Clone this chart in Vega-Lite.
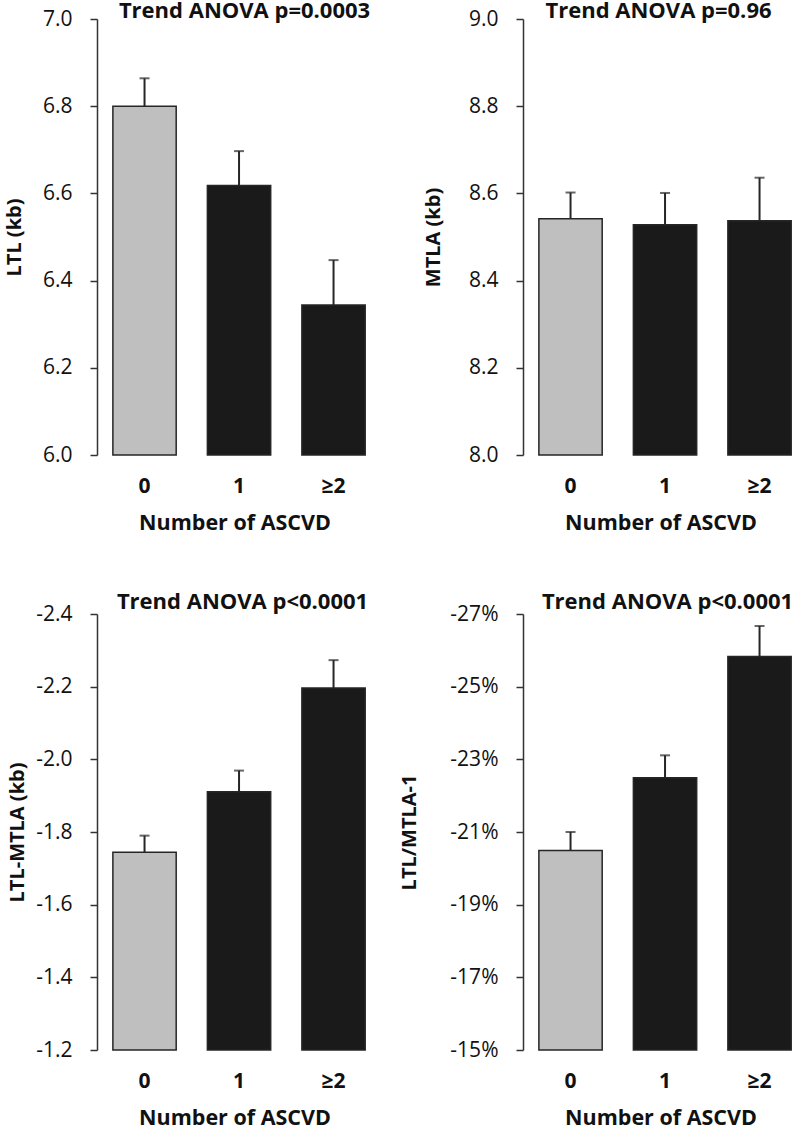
{
  "$schema": "https://vega.github.io/schema/vega-lite/v6.json",
  "background": "white",
  "padding": {"left": 4, "top": 0, "right": 0, "bottom": 0},
  "columns": 2,
  "bounds": "flush",
  "spacing": {"row": 159, "column": 151},
  "datasets": {
    "ltl": [
      {"group": "0", "value": 6.800, "hi": 6.864},
      {"group": "1", "value": 6.618, "hi": 6.697},
      {"group": "≥2", "value": 6.344, "hi": 6.447}
    ],
    "mtl": [
      {"group": "0", "value": 8.542, "hi": 8.602},
      {"group": "1", "value": 8.528, "hi": 8.601},
      {"group": "≥2", "value": 8.537, "hi": 8.636}
    ],
    "diff": [
      {"group": "0", "value": -1.744, "hi": -1.790},
      {"group": "1", "value": -1.911, "hi": -1.969},
      {"group": "≥2", "value": -2.196, "hi": -2.273}
    ],
    "ratio": [
      {"group": "0", "value": -20.49, "hi": -21.00},
      {"group": "1", "value": -22.49, "hi": -23.11},
      {"group": "≥2", "value": -25.83, "hi": -26.67}
    ]
  },
  "concat": [
    {
      "width": 275, "height": 436,
      "title": {"text": "Trend ANOVA p=0.0003", "dx": 10, "offset": -15},
      "data": {"name": "ltl"},
      "encoding": {
        "x": {"field": "group", "type": "nominal", "sort": ["0", "1", "≥2"], "title": "Number of ASCVD",
              "scale": {"paddingInner": 0.33, "paddingOuter": 0.12, "align": 0.7}}
      },
      "layer": [
        {"mark": {"type": "bar", "stroke": "#262626", "strokeWidth": 1.5},
         "encoding": {
           "y": {"field": "value", "type": "quantitative", "title": "LTL (kb)",
                 "scale": {"domain": [6.0, 7.0], "zero": false, "nice": false},
                 "axis": {"values": [6.0, 6.2, 6.4, 6.6, 6.8, 7.0], "format": ".1f", "titlePadding": 18}},
           "y2": {"datum": 6.0},
           "color": {"field": "group", "type": "nominal", "legend": null,
                     "scale": {"domain": ["0", "1", "≥2"], "range": ["#bfbfbf", "#1a1a1a", "#1a1a1a"]}}
         }},
        {"mark": {"type": "rule", "color": "#262626", "strokeWidth": 2},
         "encoding": {"y": {"field": "value", "type": "quantitative"}, "y2": {"field": "hi"}}},
        {"mark": {"type": "tick", "color": "#262626", "size": 10, "thickness": 2},
         "encoding": {"y": {"field": "hi", "type": "quantitative"}}}
      ]
    },
    {
      "width": 275, "height": 436,
      "title": {"text": "Trend ANOVA p=0.96", "dx": -2, "offset": -15},
      "data": {"name": "mtl"},
      "encoding": {
        "x": {"field": "group", "type": "nominal", "sort": ["0", "1", "≥2"], "title": "Number of ASCVD",
              "scale": {"paddingInner": 0.33, "paddingOuter": 0.12, "align": 0.7}}
      },
      "layer": [
        {"mark": {"type": "bar", "stroke": "#262626", "strokeWidth": 1.5},
         "encoding": {
           "y": {"field": "value", "type": "quantitative", "title": "MTLA (kb)",
                 "scale": {"domain": [8.0, 9.0], "zero": false, "nice": false},
                 "axis": {"values": [8.0, 8.2, 8.4, 8.6, 8.8, 9.0], "format": ".1f", "titlePadding": 25}},
           "y2": {"datum": 8.0},
           "color": {"field": "group", "type": "nominal", "legend": null,
                     "scale": {"domain": ["0", "1", "≥2"], "range": ["#bfbfbf", "#1a1a1a", "#1a1a1a"]}}
         }},
        {"mark": {"type": "rule", "color": "#262626", "strokeWidth": 2},
         "encoding": {"y": {"field": "value", "type": "quantitative"}, "y2": {"field": "hi"}}},
        {"mark": {"type": "tick", "color": "#262626", "size": 10, "thickness": 2},
         "encoding": {"y": {"field": "hi", "type": "quantitative"}}}
      ]
    },
    {
      "width": 275, "height": 436,
      "title": {"text": "Trend ANOVA p<0.0001", "dx": 8, "offset": -11},
      "data": {"name": "diff"},
      "encoding": {
        "x": {"field": "group", "type": "nominal", "sort": ["0", "1", "≥2"], "title": "Number of ASCVD",
              "scale": {"paddingInner": 0.33, "paddingOuter": 0.12, "align": 0.7}}
      },
      "layer": [
        {"mark": {"type": "bar", "stroke": "#262626", "strokeWidth": 1.5},
         "encoding": {
           "y": {"field": "value", "type": "quantitative", "title": "LTL-MTLA (kb)",
                 "scale": {"domain": [-2.4, -1.2], "reverse": true, "zero": false, "nice": false},
                 "axis": {"values": [-2.4, -2.2, -2.0, -1.8, -1.6, -1.4, -1.2], "format": ".1f", "titlePadding": 8,
                          "labelExpr": "replace(datum.label, '\u2212', '-')"}},
           "y2": {"datum": -1.2},
           "color": {"field": "group", "type": "nominal", "legend": null,
                     "scale": {"domain": ["0", "1", "≥2"], "range": ["#bfbfbf", "#1a1a1a", "#1a1a1a"]}}
         }},
        {"mark": {"type": "rule", "color": "#262626", "strokeWidth": 2},
         "encoding": {"y": {"field": "value", "type": "quantitative"}, "y2": {"field": "hi"}}},
        {"mark": {"type": "tick", "color": "#262626", "size": 10, "thickness": 2},
         "encoding": {"y": {"field": "hi", "type": "quantitative"}}}
      ]
    },
    {
      "width": 275, "height": 436,
      "title": {"text": "Trend ANOVA p<0.0001", "dx": 7, "offset": -11},
      "data": {"name": "ratio"},
      "encoding": {
        "x": {"field": "group", "type": "nominal", "sort": ["0", "1", "≥2"], "title": "Number of ASCVD",
              "scale": {"paddingInner": 0.33, "paddingOuter": 0.12, "align": 0.7}}
      },
      "layer": [
        {"mark": {"type": "bar", "stroke": "#262626", "strokeWidth": 1.5},
         "encoding": {
           "y": {"field": "value", "type": "quantitative", "title": "LTL/MTLA-1",
                 "scale": {"domain": [-27, -15], "reverse": true, "zero": false, "nice": false},
                 "axis": {"values": [-27, -25, -23, -21, -19, -17, -15], "format": ".0f", "titlePadding": 30,
                          "labelExpr": "replace(datum.label, '\u2212', '-') + '%'"}},
           "y2": {"datum": -15},
           "color": {"field": "group", "type": "nominal", "legend": null,
                     "scale": {"domain": ["0", "1", "≥2"], "range": ["#bfbfbf", "#1a1a1a", "#1a1a1a"]}}
         }},
        {"mark": {"type": "rule", "color": "#262626", "strokeWidth": 2},
         "encoding": {"y": {"field": "value", "type": "quantitative"}, "y2": {"field": "hi"}}},
        {"mark": {"type": "tick", "color": "#262626", "size": 10, "thickness": 2},
         "encoding": {"y": {"field": "hi", "type": "quantitative"}}}
      ]
    }
  ],
  "resolve": {"scale": {"color": "independent"}},
  "config": {
    "font": "Open Sans",
    "view": {"stroke": null},
    "title": {"font": "Open Sans", "fontSize": 22, "fontWeight": "bold", "color": "#111111", "anchor": "middle", "baseline": "alphabetic", "frame": "group"},
    "axisX": {"domain": false, "ticks": false, "labelAngle": 0, "labelFont": "Open Sans", "labelFontWeight": "bold", "labelFontSize": 21,
              "labelPadding": 20, "labelColor": "#111111", "titleFont": "Open Sans", "titleFontSize": 21.5, "titleFontWeight": "bold",
              "titlePadding": 16, "titleColor": "#111111"},
    "axisY": {"grid": false, "domainColor": "#333333", "domainWidth": 1.5, "tickColor": "#333333", "tickWidth": 1.5, "tickSize": 7,
              "labelFont": "Open Sans", "labelFontSize": 21, "labelPadding": 18, "labelColor": "#111111",
              "titleFont": "Open Sans", "titleFontSize": 20, "titleFontWeight": "bold", "titleColor": "#111111"}
  }
}
